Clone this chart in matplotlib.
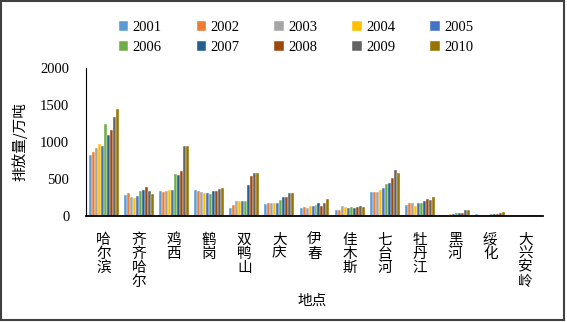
import matplotlib
matplotlib.use("Agg")
import matplotlib.pyplot as plt
import numpy as np
from matplotlib.patches import Rectangle

plt.rcParams['font.family'] = ['Liberation Serif', 'Noto Sans CJK SC', 'DejaVu Sans']

cities = ["哈尔滨", "齐齐哈尔", "鸡西", "鹤岗", "双鸭山", "大庆", "伊春", "佳木斯",
          "七台河", "牡丹江", "黑河", "绥化", "大兴安岭"]
years = ["2001", "2002", "2003", "2004", "2005", "2006", "2007", "2008", "2009", "2010"]

v2001 = [826, 281, 340, 350, 105, 159, 109, 87, 322, 150, 20, 33, 8]
v2002 = [862, 305, 326, 336, 146, 169, 118, 87, 322, 169, 20, 10, 8]
v2003 = [921, 258, 336, 318, 196, 169, 105, 132, 326, 169, 20, 8, 8]
v2004 = [975, 241, 345, 309, 200, 182, 136, 128, 350, 136, 22, 10, 9]
v2005 = [948, 268, 350, 305, 209, 182, 132, 109, 377, 169, 25, 15, 9]
v2006 = [1243, 336, 563, 299, 200, 214, 146, 128, 431, 177, 35, 25, 10]
v2007 = [1098, 350, 549, 332, 422, 254, 182, 109, 445, 204, 45, 25, 10]
v2008 = [1156, 390, 608, 336, 540, 254, 141, 128, 517, 223, 35, 30, 11]
v2009 = [1338, 340, 948, 363, 581, 309, 182, 141, 622, 218, 85, 45, 12]
v2010 = [1451, 299, 948, 377, 585, 309, 227, 128, 577, 258, 85, 50, 16]
series = [v2001, v2002, v2003, v2004, v2005, v2006, v2007, v2008, v2009, v2010]

colors = ["#5B9BD5", "#ED7D31", "#A5A5A5", "#FFC000", "#4472C4",
          "#70AD47", "#255E91", "#9E480E", "#636363", "#997300"]

fig = plt.figure(figsize=(5.67, 3.22), dpi=100)
ax = fig.add_axes([86/567, 1-216/322, (543-86)/567, (216-68)/322])

n = len(series)
x = np.arange(len(cities))
group_w = 0.85
bw = group_w / n
for i, (vals, c, yr) in enumerate(zip(series, colors, years)):
    ax.bar(x - group_w/2 + bw*(i+0.5), vals, width=bw, color=c, label=yr,
           edgecolor='white', linewidth=0.3)

ax.set_xlim(-0.5, len(cities)-0.5)
ax.set_ylim(0, 2000)
ax.set_yticks([0, 500, 1000, 1500, 2000])
ax.set_xticks(x)
ax.set_xticklabels(["\n".join(c) for c in cities], family=['Noto Sans CJK SC'],
                   fontsize=10, linespacing=1.0, va='top')
ax.tick_params(axis='both', length=0, labelsize=10.5)
ax.tick_params(axis='x', pad=12)
ax.tick_params(axis='y', pad=12)
for s in ['top', 'right']:
    ax.spines[s].set_visible(False)
ax.spines['left'].set_color('black')
ax.spines['bottom'].set_color('black')
ax.spines['bottom'].set_linewidth(1.3)

ax.set_ylabel("排放量/万吨", family=['Noto Sans CJK SC'], fontsize=10.5, labelpad=9)
fig.text(312/567, 1-301/322, "地点", family=['Noto Sans CJK SC'], fontsize=10.5,
         ha='center', va='center')

handles, labels = ax.get_legend_handles_labels()
order = [0, 5, 1, 6, 2, 7, 3, 8, 4, 9]
leg = fig.legend([handles[k] for k in order], [labels[k] for k in order],
                 loc='center', bbox_to_anchor=(296/567, 1-37.5/322), ncol=5,
                 frameon=False, fontsize=10.5, handlelength=0.65, handleheight=0.65,
                 columnspacing=2.4, handletextpad=0.3, labelspacing=0.5)

fig.patches.append(Rectangle((0.002, 0.005), 0.993, 0.992, transform=fig.transFigure,
                             fill=False, edgecolor='#404040', linewidth=1.5))

fig.savefig("out.png", dpi=100)
